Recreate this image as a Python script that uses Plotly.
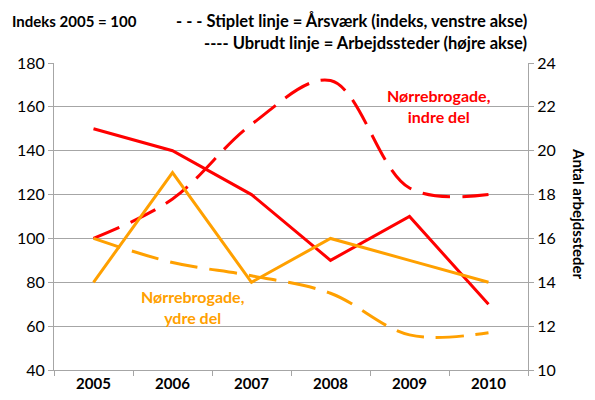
import plotly.graph_objects as go

years = ["2005", "2006", "2007", "2008", "2009", "2010"]
# Årsværk index (left axis, dashed)
indre_index = [100, 118, 152, 172, 123, 120]
ydre_index = [100, 89, 83, 75, 56, 57]
# Arbejdssteder (right axis, solid)
indre_steder = [21, 20, 18, 15, 17, 13]
ydre_steder = [14, 19, 14, 16, 15, 14]

RED = "#FF0000"
ORANGE = "#FFA000"
FONT = "Lato"
GRID = "#A6A6A6"

OFF = 8  # page body margin
FW, FH = 595 - OFF, 400 - OFF
# plot area in window pixels
PX0, PX1, PY0, PY1 = 54, 528, 63, 370
L = PX0 - OFF
T = PY0 - OFF
R = FW - (PX1 - OFF)
B = FH - (PY1 - OFF)
W = PX1 - PX0
H = PY1 - PY0

fig = go.Figure()
fig.add_trace(go.Scatter(x=years, y=indre_index, mode="lines",
                         line=dict(color=RED, width=3, dash="28px,12px", shape="spline", smoothing=1.0),
                         yaxis="y", showlegend=False))
fig.add_trace(go.Scatter(x=years, y=ydre_index, mode="lines",
                         line=dict(color=ORANGE, width=3, dash="28px,12px", shape="spline", smoothing=1.0),
                         yaxis="y", showlegend=False))
fig.add_trace(go.Scatter(x=years, y=indre_steder, mode="lines",
                         line=dict(color=RED, width=3),
                         yaxis="y2", showlegend=False))
fig.add_trace(go.Scatter(x=years, y=ydre_steder, mode="lines",
                         line=dict(color=ORANGE, width=3),
                         yaxis="y2", showlegend=False))

fig.update_layout(
    width=FW, height=FH,
    margin=dict(l=L, r=R, t=T, b=B, autoexpand=False),
    paper_bgcolor="white", plot_bgcolor="white",
    font=dict(family=FONT, size=15, color="#000000"),
    xaxis=dict(type="category", tickson="boundaries", ticks="outside", ticklen=5,
               tickcolor=GRID, showline=True, linecolor=GRID, linewidth=1,
               showgrid=False, tickfont=dict(size=15, family=FONT, weight="bold"),
               range=[-0.5, 5.5], automargin=False),
    yaxis=dict(range=[40, 180], dtick=20, showgrid=True, gridcolor=GRID, gridwidth=1,
               showline=True, linecolor=GRID, ticks="outside", ticklen=5, tickcolor=GRID,
               tickfont=dict(size=16), zeroline=False, automargin=False),
    yaxis2=dict(range=[10, 24], dtick=2, overlaying="y", side="right", showgrid=False,
                showline=True, linecolor=GRID, ticks="outside", ticklen=5, tickcolor=GRID,
                tickfont=dict(size=16), zeroline=False, automargin=False),
)


def px_ann(text, xp, yp, xanchor="center", color="#000000", size=16, angle=0):
    fig.add_annotation(text=text, xref="paper", yref="paper",
                       x=(xp - PX0) / W, y=(PY1 - yp) / H, showarrow=False,
                       xanchor=xanchor, yanchor="middle", textangle=angle,
                       font=dict(size=size, family=FONT, color=color))


px_ann("<b>Indeks 2005 = 100</b>", 10, 21, "left", size=15)
px_ann("<b>- - - Stiplet linje = Årsværk (indeks, venstre akse)</b>", 529, 21, "right", size=16.5)
px_ann("<b>---- Ubrudt linje = Arbejdssteder (højre akse)</b>", 529, 43, "right", size=16.5)
px_ann("<b>Nørrebrogade,<br>indre del</b>", 439, 106, color=RED, size=16)
px_ann("<b>Nørrebrogade,<br>ydre del</b>", 193, 307, color=ORANGE, size=16)
px_ann("<b>Antal arbejdssteder</b>", 579, 214, size=15, angle=90)

fig.write_html("out.html")
